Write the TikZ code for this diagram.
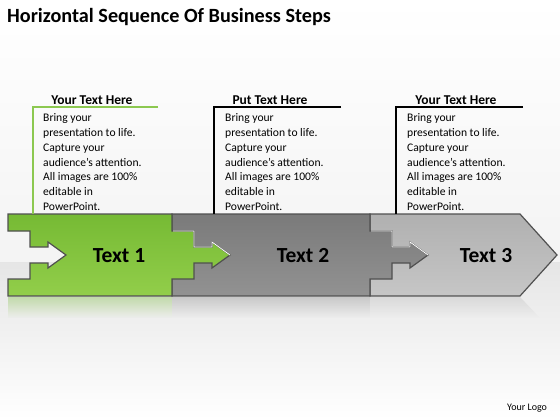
\documentclass[tikz,border=0pt]{standalone}
\usepackage{fontspec}
\setmainfont{Carlito}
\usetikzlibrary{positioning, fadings}
\definecolor{stepgreen}{RGB}{118,186,52}
\definecolor{stepgreenlo}{RGB}{146,206,74}
\definecolor{stepgray}{RGB}{122,122,122}
\definecolor{stepgraylo}{RGB}{146,146,146}
\definecolor{steplight}{RGB}{176,176,176}
\definecolor{steplightlo}{RGB}{198,198,198}
\definecolor{bardark}{RGB}{80,80,80}
\definecolor{callgreen}{RGB}{140,200,80}
\tikzstyle{piece} = [draw=bardark, line width=1.2pt, line join=miter]
\tikzstyle{bevel} = [draw=white, line width=0.8pt]
\tikzstyle{steptext} = [font=\bfseries\fontsize{21.5}{24}\selectfont, anchor=base]
\tikzstyle{head} = [font=\bfseries\fontsize{13.5}{15}\selectfont, anchor=base]
\tikzstyle{body} = [font=\fontsize{11.6}{14.8}\selectfont, align=left, anchor=north west, inner sep=0pt]
\tikzstyle{callout} = [line width=1.2pt]
\newcommand{\blurb}{Bring your\\presentation to life.\\Capture your\\audience’s attention.\\All images are 100\%\\editable in\\PowerPoint.}

\begin{document}
\begin{tikzpicture}[x=1pt, y=-1pt]
    \useasboundingbox (0,0) rectangle (560,420);
    % background
    \shade[top color=white, bottom color=gray!9] (0,0) rectangle (560,262);
    \shade[top color=gray!20, bottom color=white] (0,262) rectangle (560,420);
    \node[anchor=base west, inner sep=0pt, font=\bfseries\fontsize{20.2}{24}\selectfont] (title) at (7,22.5) {Horizontal Sequence Of Business Steps};
    % reflections
    \fill[stepgreen, opacity=.35, path fading=south] (8,297) rectangle (172,318);
    \fill[stepgray, opacity=.3, path fading=south] (172,297) rectangle (370,318);
    \fill[steplight, opacity=.3, path fading=south] (370,297) -- (520,297) -- (540,318) -- (370,318) -- cycle;
    \coordinate (bartop) at (0,214);
    % step 3
    \shade[piece, top color=steplight, bottom color=steplightlo] (370,214) -- (520,214) -- (557,255) -- (520,296) -- (370,296) -- cycle;
    % step 2
    \shade[piece, top color=stepgray, bottom color=stepgraylo] (172,214) -- (370,214) -- (370,231) -- (392,231) -- (392,247) -- (410,247) -- (410,242) -- (428,255) -- (410,268) -- (410,263) -- (392,263) -- (392,279) -- (370,279) -- (370,296) -- (172,296) -- cycle;
    \draw[bevel] (371,231) -- (392,231) -- (392,247) -- (410,247) -- (410,242) -- (428,255);
    % step 1
    \shade[piece, top color=stepgreen, bottom color=stepgreenlo] (8,214) -- (172,214) -- (172,231) -- (194,231) -- (194,247) -- (212,247) -- (212,242) -- (230,255) -- (212,268) -- (212,263) -- (194,263) -- (194,279) -- (172,279) -- (172,296) -- (8,296) -- (8,279) -- (30,279) -- (30,263) -- (48,263) -- (48,268) -- (66,255) -- (48,242) -- (48,247) -- (30,247) -- (30,231) -- (8,231) -- cycle;
    \draw[bevel] (173,231) -- (194,231) -- (194,247) -- (212,247) -- (212,242) -- (230,255);
    \node[steptext] (step1) at (119,262) {Text 1};
    \node[steptext] (step2) at (303,262) {Text 2};
    \node[steptext] (step3) at (486,262) {Text 3};
    % callouts
    \coordinate (call1) at (33,107);
    \coordinate (call2) at (214,107);
    \coordinate (call3) at (396,107);
    \draw[callout, callgreen] (158,107) -- (call1) -- (call1 |- bartop);
    \draw[callout] (341,107) -- (call2) -- (call2 |- bartop);
    \draw[callout] (523,107) -- (call3) -- (call3 |- bartop);
    \node[head] (head1) at (92,104.5) {Your Text Here};
    \node[head] (head2) at (270,104.5) {Put Text Here};
    \node[head] (head3) at (456,104.5) {Your Text Here};
    \node[body] (body1) at (43,113.5) {\blurb};
    \node[body] (body2) at (225,113.5) {\blurb};
    \node[body] (body3) at (407,113.5) {\blurb};
    \node[anchor=base west, font=\fontsize{10}{12}\selectfont, inner sep=0pt] (logo) at (507,410) {Your Logo};
\end{tikzpicture}
\end{document}
